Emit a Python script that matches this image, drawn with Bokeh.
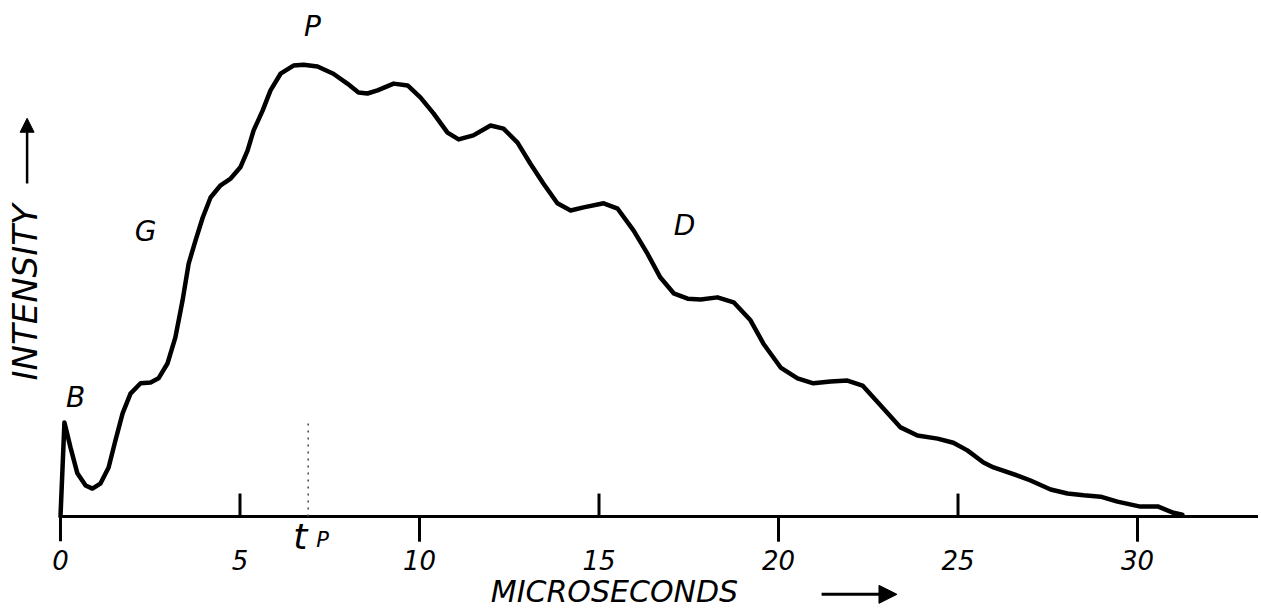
from bokeh.plotting import figure
from bokeh.models import Range1d, Arrow, NormalHead
from bokeh.core.properties import value
from bokeh.embed import file_html
from bokeh.resources import INLINE

# ---- data ----
time_us = [0.0, 0.11, 0.28, 0.47, 0.70, 0.89, 1.11, 1.34, 1.53, 1.73, 1.95, 2.23, 2.51, 2.73,
           2.98, 3.20, 3.40, 3.57, 3.76, 3.96, 4.18, 4.46, 4.74, 5.01, 5.21, 5.38, 5.63, 5.85,
           6.13, 6.49, 6.77, 7.16, 7.60, 7.99, 8.30, 8.55, 8.83, 9.28, 9.67, 10.03, 10.39, 10.78,
           11.09, 11.50, 11.98, 12.34, 12.73, 13.09, 13.45, 13.84, 14.21, 14.57, 15.13, 15.52,
           15.96, 16.35, 16.71, 17.08, 17.47, 17.83, 18.30, 18.75, 19.22, 19.58, 20.06, 20.53,
           20.97, 21.45, 21.92, 22.34, 22.84, 23.40, 23.87, 24.43, 24.87, 25.26, 25.71, 25.99,
           26.66, 27.02, 27.58, 28.05, 28.50, 28.97, 29.44, 30.08, 30.58, 30.97, 31.25]
intensity = [0, 20.9, 15.3, 9.6, 6.9, 6.2, 7.3, 10.9, 16.9, 22.9, 27.3, 29.6, 29.8, 30.7,
             34.0, 39.8, 48.0, 56.2, 61.3, 66.4, 70.9, 73.6, 75.1, 77.6, 81.3, 85.8, 90.2, 94.7,
             98.4, 100.2, 100.4, 100.0, 98.4, 96.2, 94.2, 94.0, 94.7, 96.2, 95.8, 93.1, 89.6, 85.3,
             83.8, 84.7, 86.9, 86.2, 83.1, 78.4, 74.0, 69.6, 68.0, 68.7, 69.6, 68.4,
             63.6, 58.4, 53.1, 49.6, 48.4, 48.2, 48.7, 47.6, 43.6, 38.4, 33.1, 30.7,
             29.6, 30.0, 30.2, 29.1, 24.7, 19.8, 18.0, 17.3, 16.4, 14.7, 12.0, 10.9,
             9.1, 8.0, 6.0, 5.1, 4.7, 4.4, 3.3, 2.2, 2.2, 0.9, 0.4]
tick_values = [0, 5, 10, 15, 20, 25, 30]
tick_labels = ["0", "5", "10", "15", "20", "25", "30"]
ticks_up = [5, 15, 25]
ticks_down = [10, 20, 30]
tp_us = 6.9
peak_labels = ["B", "G", "P", "D"]
x_title = "MICROSECONDS"
y_title = "INTENSITY"

# ---- figure ----
X0, X1 = -1.671, 33.37
Y0, Y1 = -20.89, 114.67
p = figure(width=1258, height=610, x_range=Range1d(X0, X1), y_range=Range1d(Y0, Y1),
           output_backend="svg", toolbar_location=None, min_border=0,
           x_axis_location=None, y_axis_location=None)
p.grid.visible = False
p.outline_line_color = None
p.background_fill_color = "white"

FONT = value("DejaVu Sans")

# baseline (time axis) and the short vertical stub at t=0
p.line(x=[0, X1], y=[0, 0], line_color="black", line_width=3)
p.line(x=[0, 0], y=[-5.5, 0], line_color="black", line_width=3)

# tick marks: alternating up / down
p.segment(x0=ticks_up, y0=[0] * len(ticks_up), x1=ticks_up, y1=[5.1] * len(ticks_up),
          line_color="black", line_width=3)
p.segment(x0=ticks_down, y0=[0] * len(ticks_down), x1=ticks_down, y1=[-5.6] * len(ticks_down),
          line_color="black", line_width=3)

# dotted line at t_p
p.line(x=[tp_us, tp_us], y=[0, 21], line_color="#444444", line_width=1.5, line_dash="2 5")

# the curve
p.line(x=time_us, y=intensity, line_color="black", line_width=4.5,
       line_join="round", line_cap="round")

# tick labels
p.text(x=tick_values, y=[-9.6] * len(tick_values), text=tick_labels,
       text_font=FONT, text_font_style="italic", text_font_size="26px",
       text_align="center", text_baseline="middle", text_color="black")

# peak letters
lab_x = [0.42, 2.37, 7.02, 17.38]
lab_y = [26.4, 63.3, 108.9, 64.7]
p.text(x=lab_x, y=lab_y, text=peak_labels, text_font=FONT, text_font_style="italic",
       text_font_size="28px", text_align="center", text_baseline="middle", text_color="black")

# t_p label
p.text(x=[6.68], y=[-4.4], text=["t"], text_font=FONT, text_font_style="italic",
       text_font_size="36px", text_align="center", text_baseline="middle", text_color="black")
p.text(x=[7.3], y=[-5.3], text=["P"], text_font=FONT, text_font_style="italic",
       text_font_size="21px", text_align="center", text_baseline="middle", text_color="black")

# axis titles
p.text(x=[15.43], y=[-16.6], text=[x_title], text_font=FONT, text_font_style="italic",
       text_font_size="30px", text_align="center", text_baseline="middle", text_color="black")
p.add_layout(Arrow(end=NormalHead(size=18, fill_color="black", line_color="black"),
                   x_start=21.2, y_start=-17.3, x_end=23.3, y_end=-17.3,
                   line_color="black", line_width=3))

p.text(x=[-0.98], y=[49.8], text=[y_title], angle=1.5708, text_font=FONT,
       text_font_style="italic", text_font_size="34px", text_align="center",
       text_baseline="middle", text_color="black")
p.add_layout(Arrow(end=NormalHead(size=14, fill_color="black", line_color="black"),
                   x_start=-0.93, y_start=74.0, x_end=-0.93, y_end=88.5,
                   line_color="black", line_width=2.5))

open("out.html", "w").write(file_html(p, INLINE))
